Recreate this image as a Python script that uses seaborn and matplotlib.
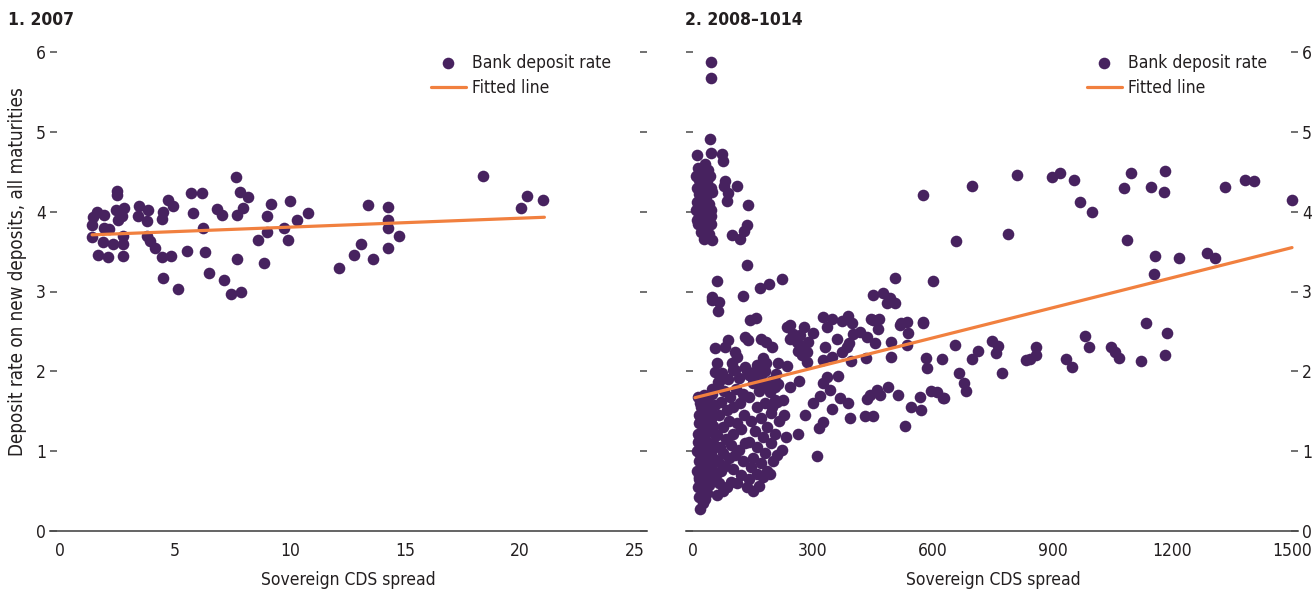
import matplotlib
matplotlib.use("Agg")
import matplotlib.pyplot as plt
import numpy as np
import pandas as pd
import seaborn as sns

# ---- Panel 1: 2007 ----
cds_2007 = [2.47, 2.47, 5.68, 6.16, 4.71, 4.93, 1.60, 1.91, 1.45, 2.43,
            2.80, 2.68, 2.53, 3.45, 3.84, 3.40, 3.77, 4.49, 4.42, 5.77,
            1.38, 1.91, 2.14, 6.23, 1.38, 1.88, 2.32, 2.73, 2.75, 3.77,
            3.91, 4.13, 1.67, 2.10, 2.73, 4.42, 4.83, 5.53, 6.30, 6.49,
            4.47, 5.14, 7.65, 7.83, 8.19, 6.81, 7.03, 7.68, 7.97, 9.17,
            10.00, 8.99, 10.29, 10.77, 8.99, 9.75, 8.62, 9.90, 7.71, 8.88,
            7.13, 7.43, 7.87, 13.38, 14.27, 14.27, 14.27, 14.75, 13.09, 12.80,
            13.62, 14.25, 12.14, 18.38, 20.32, 21.01, 20.04]
rate_2007 = [4.26, 4.21, 4.24, 4.23, 4.15, 4.07, 3.99, 3.96, 3.93, 4.02,
             4.04, 3.95, 3.90, 4.07, 4.02, 3.94, 3.88, 4.00, 3.91, 3.98,
             3.83, 3.79, 3.78, 3.80, 3.68, 3.62, 3.60, 3.69, 3.60, 3.70,
             3.63, 3.55, 3.46, 3.43, 3.44, 3.43, 3.45, 3.51, 3.49, 3.23,
             3.17, 3.03, 4.44, 4.25, 4.18, 4.03, 3.96, 3.96, 4.04, 4.10,
             4.13, 3.94, 3.90, 3.98, 3.75, 3.80, 3.65, 3.65, 3.41, 3.36,
             3.15, 2.97, 2.99, 4.08, 4.06, 3.90, 3.80, 3.70, 3.60, 3.46,
             3.41, 3.55, 3.30, 4.45, 4.19, 4.15, 4.05]
fit_cds_2007 = [1.4, 21.06]
fit_rate_2007 = [3.71, 3.93]

# ---- Panel 2: 2008-14 ----
# low-spread, high-rate column
cds_col = [44, 44, 43, 11, 44, 72, 76, 80, 78, 88, 84, 111, 138, 134, 128, 97, 118, 28, 47, 9,
           136, 12, 8, 14, 25, 30, 38, 42, 20, 9, 15, 28, 35, 44, 48, 11, 18, 25, 32, 40,
           46, 8, 14, 22, 30, 38, 44, 12, 26, 36, 45, 40, 33, 20]
rate_col = [5.88, 5.67, 4.91, 4.71, 4.73, 4.72, 4.64, 4.39, 4.32, 4.23, 4.13, 4.32, 4.08, 3.83, 3.76,
            3.71, 3.66, 3.66, 3.64, 3.89, 3.33, 4.55, 4.45, 4.40, 4.50, 4.60, 4.52, 4.45, 4.35, 4.30,
            4.22, 4.28, 4.38, 4.30, 4.25, 4.12, 4.15, 4.05, 4.18, 4.10, 4.02, 4.02, 3.95, 3.92, 3.98,
            3.90, 3.95, 3.85, 3.82, 3.80, 3.84, 3.72, 3.70, 3.75]
# high-spread, high-rate points
cds_high = [699, 576, 658, 505, 600, 451, 476, 493, 485, 506, 447, 466, 536, 576, 812, 900, 920, 954,
            969, 999, 1080, 1098, 1148, 1182, 1179, 1332, 1382, 1404, 1499, 788, 1087, 1156, 1216,
            1286, 1307, 1154, 1134, 1188, 575, 522, 518, 451, 464]
rate_high = [4.32, 4.21, 3.63, 3.17, 3.13, 2.95, 2.98, 2.92, 2.85, 2.85, 2.66, 2.66, 2.62, 2.62, 4.46,
             4.44, 4.49, 4.40, 4.12, 3.99, 4.30, 4.48, 4.31, 4.51, 4.25, 4.31, 4.40, 4.39, 4.15, 3.72,
             3.64, 3.45, 3.42, 3.48, 3.42, 3.22, 2.61, 2.48, 2.60, 2.60, 2.58, 2.64, 2.53]
# high-spread, mid-rate points
cds_mid = [982, 992, 1046, 1056, 1066, 1121, 1181, 933, 949, 860, 860, 835, 844, 774, 749, 764, 758,
           713, 699, 656, 665, 679, 683, 583, 585, 624, 539, 535, 597, 627, 568, 532, 431, 451, 435,
           443, 460, 468, 489, 514, 545, 572, 610, 628, 496, 496, 418, 435, 456, 433, 401]
rate_mid = [2.44, 2.31, 2.30, 2.24, 2.17, 2.13, 2.20, 2.16, 2.06, 2.30, 2.21, 2.14, 2.16, 1.98, 2.38,
            2.32, 2.23, 2.25, 2.16, 2.33, 1.98, 1.86, 1.75, 2.17, 2.04, 2.15, 2.48, 2.33, 1.75, 1.67,
            1.68, 1.32, 1.44, 1.44, 1.65, 1.70, 1.77, 1.70, 1.80, 1.70, 1.55, 1.51, 1.74, 1.66, 2.37,
            2.18, 2.49, 2.43, 2.35, 2.17, 2.47]
# moderate-spread points
cds_moderate = [59, 224, 191, 169, 124, 47, 65, 62, 143, 158, 326, 347, 372, 389, 395, 372, 385, 391,
                397, 335, 360, 330, 347, 326, 364, 335, 326, 235, 243, 251, 268, 279, 300, 289, 276,
                285, 272, 285, 243, 260, 264, 130, 138, 170, 184, 197, 88, 80, 105, 109, 97, 105, 55,
                59, 55, 68, 176, 183, 180, 159, 155, 214, 235, 209, 243, 266, 205, 214, 193, 205, 226,
                197, 47, 63, 47, 134, 147, 168, 184, 393, 301, 318, 343, 347, 368, 387, 310, 315, 325,
                280, 262]
rate_moderate = [3.13, 3.16, 3.10, 3.04, 2.94, 2.93, 2.87, 2.75, 2.64, 2.67, 2.68, 2.65, 2.63, 2.69,
                 2.13, 2.24, 2.30, 2.35, 2.60, 2.55, 2.41, 2.30, 2.18, 2.14, 1.94, 1.93, 1.85, 2.55,
                 2.58, 2.47, 2.45, 2.55, 2.48, 2.37, 2.30, 2.24, 2.20, 2.12, 2.40, 2.37, 2.26, 2.43,
                 2.39, 2.40, 2.37, 2.31, 2.39, 2.30, 2.24, 2.18, 2.10, 2.02, 2.29, 2.10, 1.99, 1.89,
                 2.17, 2.10, 2.01, 2.01, 1.93, 2.10, 2.07, 1.97, 1.80, 1.88, 1.81, 1.84, 1.74, 1.64,
                 1.64, 1.55, 2.89, 1.87, 1.78, 2.01, 1.93, 1.89, 1.80, 1.42, 1.60, 1.69, 1.76, 1.53,
                 1.66, 1.60, 0.94, 1.29, 1.37, 1.45, 1.22]
# dense low-spread, low-rate cluster
cds_low_a = [18, 25, 15, 30, 35, 12, 22, 40, 28, 16, 45, 10, 33, 20, 48, 14, 38, 26, 52, 11,
             30, 44, 18, 36, 56, 24, 12, 42, 30, 20, 50, 15, 35, 26, 45, 18, 38, 55, 28, 12, 48]
rate_low_a = [0.28, 0.35, 0.42, 0.40, 0.48, 0.55, 0.52, 0.58, 0.62, 0.68, 0.65, 0.75, 0.72, 0.80,
              0.78, 0.88, 0.85, 0.92, 0.90, 1.00, 1.02, 0.98, 1.08, 1.12, 1.05, 1.18, 1.22, 1.25,
              1.30, 1.36, 1.32, 1.45, 1.42, 1.52, 1.50, 1.60, 1.62, 1.58, 1.70, 1.68, 1.72]
cds_low_b = [60, 75, 65, 85, 58, 95, 70, 110, 80, 100, 62, 120, 90, 75, 105, 125, 68, 95, 115, 82,
             130, 60, 100, 120, 75, 90, 110, 65, 128, 85, 100, 70, 118, 92, 78, 108, 125, 62, 88,
             115, 72, 100]
rate_low_b = [0.45, 0.50, 0.60, 0.55, 0.70, 0.62, 0.75, 0.60, 0.82, 0.78, 0.88, 0.70, 0.92, 0.98,
              0.95, 0.88, 1.05, 1.08, 1.02, 1.15, 1.10, 1.20, 1.22, 1.28, 1.30, 1.38, 1.35, 1.45,
              1.45, 1.52, 1.55, 1.62, 1.60, 1.68, 1.75, 1.78, 1.72, 1.82, 1.90, 1.92, 1.98, 2.02]
cds_low_c = [135, 150, 165, 140, 160, 175, 145, 185, 170, 192, 150, 200, 180, 160, 210, 140, 195,
             175, 222, 155, 205, 185, 234, 145, 170, 215, 195, 160, 228, 180, 140, 210, 165, 190,
             150, 140, 170, 130, 160, 195]
rate_low_c = [0.55, 0.50, 0.56, 0.65, 0.72, 0.68, 0.80, 0.75, 0.85, 0.71, 0.92, 0.88, 0.98, 1.05,
              0.95, 1.12, 1.10, 1.18, 1.01, 1.25, 1.22, 1.30, 1.18, 1.38, 1.42, 1.38, 1.48, 1.55,
              1.45, 1.60, 1.68, 1.62, 1.75, 1.80, 1.85, 1.95, 1.95, 2.05, 2.08, 1.88]
cds_low_d = [22, 34, 14, 42, 27, 38, 18, 50, 31, 24, 46, 16, 36, 28, 20, 40, 32, 54, 13, 26]
rate_low_d = [0.46, 0.58, 0.65, 0.72, 0.84, 0.95, 0.97, 1.10, 1.15, 1.28, 1.40, 1.35, 1.55, 1.44,
              1.55, 1.35, 1.62, 1.22, 1.12, 0.70]
fit_cds_0814 = [5, 1500]
fit_rate_0814 = [1.67, 3.55]

# ---- style ----
sns.set_theme(style="white")
plt.rcParams["font.family"] = ["DejaVu Sans"]
plt.rcParams["font.stretch"] = "condensed"
TXT = "#231f20"
DOT = "#47225f"
LINE = "#f1803f"
FS = 12.5

df07 = pd.DataFrame({"cds": cds_2007, "rate": rate_2007})
fit07 = pd.DataFrame({"cds": fit_cds_2007, "rate": fit_rate_2007})
df0814 = pd.DataFrame({
    "cds": cds_col + cds_high + cds_mid + cds_moderate + cds_low_a + cds_low_b + cds_low_c + cds_low_d,
    "rate": rate_col + rate_high + rate_mid + rate_moderate + rate_low_a + rate_low_b + rate_low_c
    + rate_low_d,
})
fit0814 = pd.DataFrame({"cds": fit_cds_0814, "rate": fit_rate_0814})

W, H = 1316, 593
fig = plt.figure(figsize=(W / 100, H / 100), dpi=100)


def px_axes(x0, x1, y_top, y_bot):
    return fig.add_axes([x0 / W, 1 - y_bot / H, (x1 - x0) / W, (y_bot - y_top) / H])


ax1 = px_axes(50, 647, 52, 531)
ax2 = px_axes(686, 1298, 52, 531)


def draw(ax, pts, fit, xlim, xticks, legend_x):
    sns.scatterplot(data=pts, x="cds", y="rate", ax=ax, color=DOT, s=70,
                    linewidth=0, label="Bank deposit rate", zorder=3)
    sns.lineplot(data=fit, x="cds", y="rate", ax=ax, color=LINE, linewidth=2.3,
                 label="Fitted line", zorder=4)
    ax.set_xlim(*xlim)
    ax.set_ylim(0, 6)
    ax.set_xticks(xticks)
    ax.set_yticks(range(0, 7))
    ax.set_xlabel("")
    ax.set_ylabel("")
    for side in ("top", "left", "right"):
        ax.spines[side].set_visible(False)
    ax.spines["bottom"].set_color("#4a4a4a")
    ax.spines["bottom"].set_linewidth(1.2)
    ax.tick_params(axis="both", direction="in", length=5, width=1.1,
                   color="#4a4a4a", labelsize=FS, labelcolor=TXT)
    ax.tick_params(axis="x", pad=8)
    ax.tick_params(axis="y", pad=3, left=True, right=True)
    ax.set_facecolor("none")
    leg = ax.legend(loc="upper left", bbox_to_anchor=(legend_x / W, 1 - 54 / H),
                    bbox_transform=fig.transFigure, frameon=False, fontsize=FS,
                    handlelength=2.0, handletextpad=0.35, labelspacing=0.4,
                    borderpad=0, borderaxespad=0, markerscale=1.0)
    for t in leg.get_texts():
        t.set_color(TXT)


draw(ax1, df07, fit07, (-0.43, 25.52), [0, 5, 10, 15, 20, 25], 431)
ax1.tick_params(axis="y", labelleft=True, labelright=False)

draw(ax2, df0814, fit0814, (-17.5, 1515), [0, 300, 600, 900, 1200, 1500], 1087)
ax2.tick_params(axis="y", labelleft=False, labelright=True)

# panel titles and axis labels
fig.text(8 / W, 1 - 20 / H, "1. 2007", fontsize=FS, fontweight="bold", color=TXT,
         ha="left", va="center")
fig.text(685 / W, 1 - 20 / H, "2. 2008\u20131014", fontsize=FS, fontweight="bold", color=TXT,
         ha="left", va="center")
fig.text(18 / W, 1 - 272 / H, "Deposit rate on new deposits, all maturities", fontsize=13.5,
         color=TXT, rotation=90, ha="center", va="center")
fig.text(348 / W, 1 - 580 / H, "Sovereign CDS spread", fontsize=FS, color=TXT,
         ha="center", va="center")
fig.text(993 / W, 1 - 580 / H, "Sovereign CDS spread", fontsize=FS, color=TXT,
         ha="center", va="center")

fig.savefig("out.png", dpi=100, facecolor="white")
